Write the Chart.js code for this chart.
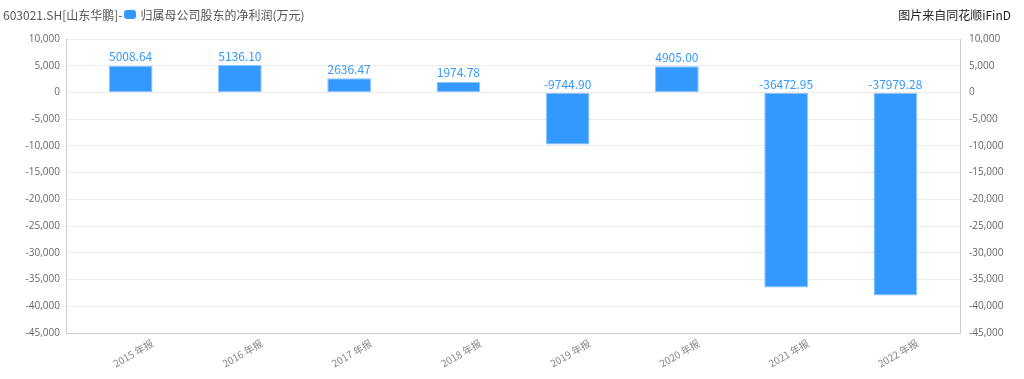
<!DOCTYPE html>
<html><head><meta charset="utf-8">
<script src="https://cdn.jsdelivr.net/npm/chart.js@4/dist/chart.umd.min.js"></script>
<style>
html,body{margin:0;padding:0;background:#fff;}
#wrap{position:relative;width:1024px;height:379px;}
#hdr{position:absolute;left:3px;top:6px;font:12px "Noto Sans CJK SC","Open Sans",sans-serif;color:#555;display:flex;align-items:center;}
#hdr .box{display:inline-block;width:12px;height:9px;background:#3399ff;border-radius:3px;margin:0 4px 0 2px;}
#src{position:absolute;right:13px;top:6px;font:12px "Noto Sans CJK SC",sans-serif;color:#222;}
canvas{position:absolute;left:0;top:0;}
</style></head><body>
<div id="wrap">
<canvas id="c" width="1024" height="379"></canvas>
<div id="hdr"><span>603021.SH[山东华鹏]-</span><span class="box"></span><span>归属母公司股东的净利润(万元)</span></div>
<div id="src">图片来自同花顺iFinD</div>
</div>
<script>
const categories = ["2015 年报","2016 年报","2017 年报","2018 年报","2019 年报","2020 年报","2021 年报","2022 年报"];
const netProfit = [5008.64, 5136.10, 2636.47, 1974.78, -9744.90, 4905.00, -36472.95, -37979.28];
const yMin = -45000, yMax = 10000, yStep = 5000;

const fmt = v => v.toLocaleString('en-US');
const insetPlugin = {
  id:'inset',
  afterLayout(chart){
    const x = chart.scales.x;
    x.left += 10; x.right -= 10; x.width -= 20;
    x.configure();
  }
};
const labelPlugin = {
  id:'vals',
  afterDatasetsDraw(chart){
    const ctx = chart.ctx;
    const meta = chart.getDatasetMeta(0);
    ctx.save();
    ctx.font = '12px "Noto Sans CJK SC","Open Sans",sans-serif';
    ctx.fillStyle = '#3399ff';
    ctx.textAlign = 'center';
    ctx.textBaseline = 'bottom';
    meta.data.forEach((bar,i)=>{
      const v = netProfit[i];
      const s = v.toFixed(2);
      if (v >= 0) ctx.fillText(s, bar.x, bar.y-3);
      else ctx.fillText(s, bar.x, bar.base-3);
    });
    ctx.restore();
  }
};
const tickFont = {family:'"Open Sans","Noto Sans CJK SC",sans-serif', size:10};
new Chart(document.getElementById('c'), {
  type:'bar',
  data:{labels:categories, datasets:[{data:netProfit, backgroundColor:'#3399ff', borderColor:'#8cc4ff', borderWidth:1, borderSkipped:false, categoryPercentage:1, barPercentage:0.4, yAxisID:'y'}]},
  options:{
    responsive:false, animation:false,
    layout:{padding:{top:39, bottom:0, left:0, right:0}},
    plugins:{legend:{display:false}, tooltip:{enabled:false}},
    scales:{
      x:{grid:{display:false, drawTicks:false}, border:{display:false},
         ticks:{color:'#888', font:{family:'"Noto Sans CJK SC",sans-serif', size:10}, minRotation:30, maxRotation:30, padding:4, labelOffset:22},
         afterFit(s){s.height=46;}},
      y:{position:'left', min:yMin, max:yMax,
         grid:{color:c=>c.tick && c.tick.value===yMin ? '#ccc' : '#ebebeb', drawTicks:false}, border:{color:'#ccc'},
         ticks:{stepSize:yStep, color:'#666', font:tickFont, padding:6, callback:v=>fmt(v)},
         afterFit(s){s.width=66;}},
      y2:{position:'right', min:yMin, max:yMax, grid:{display:false, drawTicks:false}, border:{color:'#ccc'},
         ticks:{stepSize:yStep, color:'#666', font:tickFont, padding:9, callback:v=>fmt(v)},
         afterFit(s){s.width=64;}}
    }
  },
  plugins:[insetPlugin, labelPlugin]
});
</script>
</body></html>
